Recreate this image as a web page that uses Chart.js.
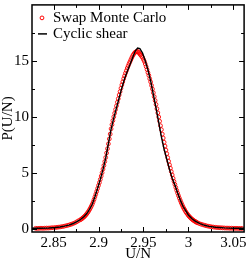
<!DOCTYPE html>
<html>
<head>
<meta charset="utf-8">
<script src="https://cdn.jsdelivr.net/npm/chart.js@4/dist/chart.umd.min.js"></script>
<style>
html,body{margin:0;padding:0;background:#fff;}
#wrap{width:249px;height:259px;position:relative;}
</style>
</head>
<body>
<div id="wrap"><canvas id="c"></canvas></div>
<script>
// Swap Monte Carlo histogram (open red circles)
const mcX = [
2.830,2.832,2.834,2.836,2.838,2.840,2.842,2.844,2.846,2.848,2.850,2.852,2.854,2.856,2.858,2.860,2.862,2.864,2.866,2.868,2.870,2.872,2.874,2.876,2.878,
2.880,2.881,2.882,2.883,2.884,2.885,2.886,2.887,2.888,2.889,2.890,2.891,2.892,2.893,2.894,2.895,2.896,2.897,2.898,2.899,
2.900,2.901,2.902,2.903,2.904,2.905,2.906,2.907,2.908,2.909,2.910,2.911,2.912,2.913,2.914,2.915,2.916,2.917,2.918,2.919,
2.920,2.921,2.922,2.923,2.924,2.925,2.926,2.927,2.928,2.929,2.930,2.931,2.932,2.933,2.934,2.935,2.936,2.937,2.938,2.939,
2.940,2.941,2.942,2.943,2.944,2.945,2.946,2.947,2.948,2.949,2.950,2.951,2.952,2.953,2.954,2.955,2.956,2.957,2.958,2.959,
2.960,2.961,2.962,2.963,2.964,2.965,2.966,2.967,2.968,2.969,2.970,2.971,2.972,2.973,2.974,2.975,2.976,2.977,2.978,2.979,
2.980,2.981,2.982,2.983,2.984,2.985,2.986,2.987,2.988,2.989,2.990,2.991,2.992,2.993,2.994,2.995,2.996,2.997,2.998,2.999,
3.000,3.001,3.002,3.003,3.004,3.005,3.006,3.007,3.008,3.009,3.010,
3.012,3.014,3.016,3.018,3.020,3.022,3.024,3.026,3.028,3.030,3.032,3.034,3.036,3.038,3.040,3.042,3.044,3.046,3.048,3.050,3.052,3.054,3.056,3.058,3.060
];
const mcY = [
0.03,0.02,0.03,0.04,0.03,0.04,0.05,0.05,0.06,0.08,0.08,0.10,0.12,0.14,0.16,0.19,0.22,0.26,0.30,0.35,0.40,0.46,0.53,0.62,0.72,
0.80,0.86,0.92,0.99,1.06,1.14,1.23,1.33,1.44,1.56,1.70,1.85,2.01,2.18,2.38,2.60,2.84,3.08,3.33,3.59,
3.86,4.12,4.40,4.70,5.00,5.32,5.65,6.00,6.36,6.76,7.15,7.58,8.02,8.45,8.92,9.30,9.66,10.00,10.32,10.65,
10.98,11.30,11.62,11.95,12.25,12.55,12.85,13.12,13.40,13.65,13.90,14.12,14.35,14.55,14.75,14.92,15.10,15.28,15.45,15.58,
15.70,15.78,15.82,15.85,15.80,15.72,15.60,15.52,15.40,15.30,15.12,14.95,14.72,14.48,14.22,13.95,13.70,13.40,13.12,12.80,
12.48,12.15,11.80,11.45,11.10,10.72,10.35,9.98,9.60,9.20,8.85,8.45,8.10,7.72,7.38,7.02,6.70,6.35,6.02,5.70,
5.40,5.10,4.80,4.50,4.22,3.95,3.68,3.42,3.18,2.95,2.72,2.52,2.32,2.14,1.96,1.80,1.66,1.52,1.40,1.29,
1.18,1.09,1.00,0.92,0.85,0.78,0.72,0.67,0.62,0.57,0.53,
0.46,0.40,0.35,0.30,0.26,0.22,0.19,0.16,0.14,0.12,0.10,0.09,0.08,0.07,0.06,0.05,0.05,0.04,0.04,0.03,0.03,0.03,0.02,0.02,0.02
];
// Cyclic shear (black line)
const csX = [2.826,2.835,2.845,2.852,2.857,2.862,2.867,2.872,2.876,2.880,2.884,2.887,2.890,2.893,2.896,2.899,2.902,2.905,2.908,2.911,2.914,2.917,2.920,2.923,2.926,2.929,2.932,2.935,2.938,2.941,2.9435,2.946,2.949,2.952,2.955,2.958,2.961,2.964,2.967,2.970,2.973,2.976,2.979,2.982,2.985,2.988,2.991,2.994,2.997,3.000,3.004,3.008,3.013,3.018,3.023,3.030,3.040,3.050,3.062];
const csY = [0.03,0.04,0.06,0.10,0.15,0.22,0.32,0.46,0.62,0.82,1.08,1.35,1.72,2.18,2.85,3.60,4.40,5.30,6.30,7.60,8.90,9.90,10.80,11.70,12.60,13.40,14.05,14.65,15.30,15.90,16.15,16.10,15.70,15.00,14.20,13.20,12.00,10.80,9.50,8.20,7.10,6.20,5.30,4.50,3.90,3.20,2.55,2.00,1.60,1.22,0.88,0.65,0.45,0.30,0.20,0.12,0.07,0.04,0.03];

const seriesNames = ["Swap Monte Carlo", "Cyclic shear"];
const xTicks = [2.85,2.875,2.9,2.925,2.95,2.975,3.0,3.025,3.05];
const xTickLabels = ["2.85","","2.9","","2.95","","3","","3.05"];
const yTicks = [0,2.5,5,7.5,10,12.5,15,17.5];
const yTickLabels = ["0","","5","","10","","15",""];
const xTitle = "U/N";
const yTitle = "P(U/N)";

const FONT = "'Liberation Serif', 'DejaVu Serif', serif";

const framePlugin = {
  id: 'frame',
  afterDatasetsDraw(chart) {
    const ctx = chart.ctx, a = chart.chartArea;
    const xs = chart.scales.x, ys = chart.scales.y;
    ctx.save();
    ctx.strokeStyle = '#000';
    ctx.lineWidth = 1;
    ctx.beginPath();
    xTicks.forEach((v, i) => {
      const p = Math.round(xs.getPixelForValue(v)) + 0.5;
      const L = xTickLabels[i] ? 5 : 3;
      ctx.moveTo(p, a.bottom); ctx.lineTo(p, a.bottom - L);
      ctx.moveTo(p, a.top); ctx.lineTo(p, a.top + L);
    });
    yTicks.forEach((v, i) => {
      const p = Math.round(ys.getPixelForValue(v)) + 0.5;
      const L = yTickLabels[i] ? 5 : 3;
      ctx.moveTo(a.left, p); ctx.lineTo(a.left + L, p);
      ctx.moveTo(a.right, p); ctx.lineTo(a.right - L, p);
    });
    ctx.stroke();
    ctx.lineWidth = 1.5;
    ctx.strokeRect(a.left, a.top, a.right - a.left, a.bottom - a.top);
    // legend
    ctx.font = "15px " + FONT;
    ctx.fillStyle = '#000';
    ctx.textBaseline = 'middle';
    ctx.textAlign = 'left';
    ctx.strokeStyle = '#ff0000';
    ctx.lineWidth = 1;
    ctx.beginPath();
    ctx.arc(a.left + 10, a.top + 13, 1.9, 0, Math.PI * 2);
    ctx.stroke();
    ctx.fillText(seriesNames[0], a.left + 21, a.top + 13);
    ctx.strokeStyle = '#000';
    ctx.lineWidth = 1.5;
    ctx.beginPath();
    ctx.moveTo(a.left + 6, a.top + 29); ctx.lineTo(a.left + 15, a.top + 29);
    ctx.stroke();
    ctx.fillText(seriesNames[1], a.left + 21, a.top + 29);
    ctx.restore();
  }
};

new Chart(document.getElementById('c'), {
  type: 'scatter',
  data: {
    datasets: [
      {
        label: seriesNames[0],
        data: mcX.map((x, i) => ({x: x, y: mcY[i]})),
        pointStyle: 'circle',
        pointRadius: 1.9,
        pointBorderWidth: 0.9,
        pointBorderColor: '#ff0000',
        pointBackgroundColor: 'rgba(0,0,0,0)',
        showLine: false,
        order: 2
      },
      {
        label: seriesNames[1],
        data: csX.map((x, i) => ({x: x, y: csY[i]})),
        showLine: true,
        borderColor: '#000',
        borderWidth: 1.4,
        pointRadius: 0,
        tension: 0,
        fill: false,
        order: 1
      }
    ]
  },
  options: {
    responsive: true,
    maintainAspectRatio: false,
    animation: false,
    events: [],
    layout: { padding: { top: 1, right: 3.5, left: 0, bottom: 0 } },
    plugins: { legend: { display: false }, tooltip: { enabled: false } },
    scales: {
      x: {
        type: 'linear',
        min: 2.826, max: 3.062,
        grid: { display: false, drawTicks: false },
        border: { display: false },
        afterBuildTicks: s => { s.ticks = xTicks.map(v => ({value: v})); },
        afterFit: s => { s.height = 27; s.paddingLeft = 0; s.paddingRight = 0; },
        ticks: {
          autoSkip: false, maxRotation: 0, padding: 2,
          color: '#000', font: { family: FONT, size: 15 },
          callback: (v, i) => xTickLabels[i]
        },
        title: { display: true, text: xTitle, color: '#000', font: { family: FONT, size: 15, lineHeight: 1 }, padding: { top: 0, bottom: -2.5 } }
      },
      y: {
        type: 'linear',
        min: -0.3, max: 20,
        grid: { display: false, drawTicks: false },
        border: { display: false },
        afterBuildTicks: s => { s.ticks = yTicks.map(v => ({value: v})); },
        afterFit: s => { s.width = 32; s.paddingTop = 0; s.paddingBottom = 0; },
        ticks: {
          autoSkip: false, padding: 3,
          color: '#000', font: { family: FONT, size: 15 },
          callback: (v, i) => yTickLabels[i]
        },
        title: { display: true, text: yTitle, color: '#000', font: { family: FONT, size: 15, lineHeight: 1 }, padding: 1 }
      }
    }
  },
  plugins: [framePlugin]
});
</script>
</body>
</html>
